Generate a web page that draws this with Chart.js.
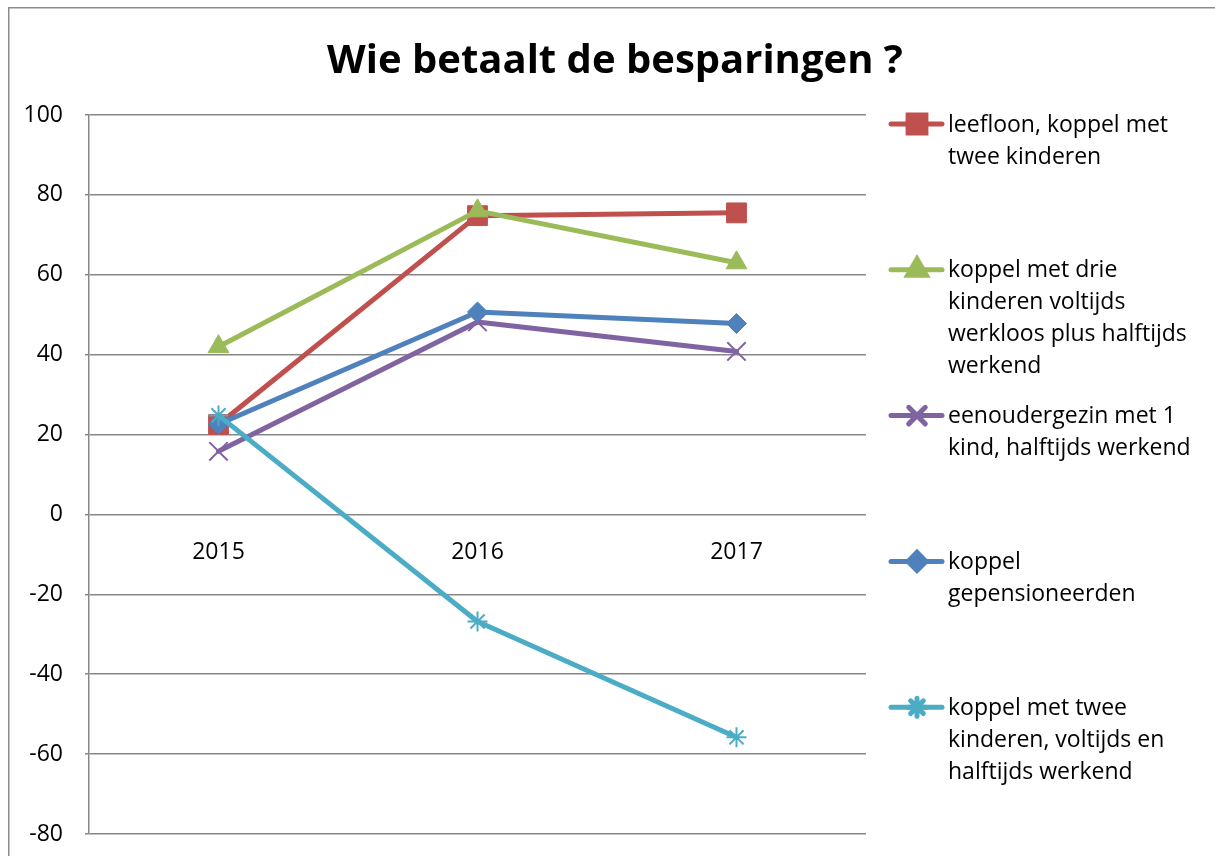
<!DOCTYPE html>
<html>
<head>
<meta charset="utf-8">
<title>Wie betaalt de besparingen ?</title>
<script src="https://cdn.jsdelivr.net/npm/chart.js@4/dist/chart.umd.min.js"></script>
<style>
  html, body { margin: 0; padding: 0; background: #fff; }
  #wrap { width: 1215px; height: 856px; position: relative; }
</style>
</head>
<body>
<div id="wrap"><canvas id="chart" width="1215" height="856"></canvas></div>
<script>
// data
const years = ['2015', '2016', '2017']
const leefloon = [22.5, 74.8, 75.5]
const drieKinderen = [42, 76, 63]
const eenouder = [15.8, 48.2, 40.8]
const gepensioneerden = [22.6, 50.7, 47.8]
const tweeKinderen = [24.8, -26.8, -55.8]

const titleText = 'Wie betaalt de besparingen ?'
const legendLines = [
  ['leefloon, koppel met', 'twee kinderen'],
  ['koppel met drie', 'kinderen voltijds', 'werkloos plus halftijds', 'werkend'],
  ['eenoudergezin met 1', 'kind, halftijds werkend'],
  ['koppel', 'gepensioneerden'],
  ['koppel met twee', 'kinderen, voltijds en', 'halftijds werkend']
]

const FONT = '"Open Sans", "DejaVu Sans", sans-serif'
const gridColor = '#878787'

function serie(label, data, color, style, radius, order, pbw) {
  return {
    label: label,
    data: data,
    borderColor: color,
    backgroundColor: color,
    pointBackgroundColor: color,
    pointBorderColor: color,
    borderWidth: 5,
    borderCapStyle: 'round',
    borderJoinStyle: 'round',
    pointStyle: style,
    pointRadius: radius,
    pointBorderWidth: pbw,
    tension: 0,
    order: order
  }
}

const datasets = [
  serie(legendLines[0].join(' '), leefloon, '#C0504D', 'rect', 14, 5, 1),
  serie(legendLines[1].join(' '), drieKinderen, '#9BBB59', 'triangle', 12, 4, 1),
  serie(legendLines[2].join(' '), eenouder, '#8064A2', 'crossRot', 13, 3, 2),
  serie(legendLines[3].join(' '), gepensioneerden, '#4F81BD', 'rectRot', 10, 2, 1),
  serie(legendLines[4].join(' '), tweeKinderen, '#4BACC6', 'star', 10, 1, 2)
]

// kader rond de grafiek
const framePlugin = {
  id: 'frame',
  beforeDraw(chart) {
    const ctx = chart.ctx
    ctx.save()
    ctx.fillStyle = '#fff'
    ctx.fillRect(0, 0, chart.width, chart.height)
    ctx.strokeStyle = '#8c8c8c'
    ctx.lineWidth = 1.5
    ctx.strokeRect(8.75, 7.75, chart.width + 20, chart.height + 20)
    ctx.restore()
  }
}

// titel en legende met tekst over meerdere regels
const legendPlugin = {
  id: 'sideLegend',
  afterDraw(chart) {
    const ctx = chart.ctx
    ctx.save()
    ctx.fillStyle = '#000'
    ctx.font = 'bold 40px ' + FONT
    ctx.textAlign = 'center'
    ctx.textBaseline = 'middle'
    ctx.fillText(titleText, 615, 62)

    ctx.font = '23px ' + FONT
    ctx.textAlign = 'left'
    chart.data.datasets.forEach((ds, i) => {
      const y = 124 + i * 145.8
      ctx.strokeStyle = ds.borderColor
      ctx.lineWidth = 5
      ctx.lineCap = 'round'
      ctx.beginPath()
      ctx.moveTo(891, y)
      ctx.lineTo(942, y)
      ctx.stroke()
      ctx.fillStyle = ds.borderColor
      Chart.helpers.drawPoint(ctx, {
        pointStyle: ds.pointStyle,
        radius: ds.pointRadius * 0.9,
        borderWidth: ds.pointBorderWidth,
        rotation: 0
      }, 917, y)
      ctx.fillStyle = '#000'
      legendLines[i].forEach((line, j) => {
        ctx.fillText(line, 948, y + 1 + j * 32)
      })
    })
    ctx.restore()
  }
}

new Chart(document.getElementById('chart'), {
  type: 'line',
  data: { labels: years, datasets: datasets },
  options: {
    responsive: false,
    animation: false,
    layout: { padding: { left: 0, top: 115, right: 349, bottom: 22 } },
    plugins: {
      legend: { display: false },
      title: { display: false },
      tooltip: { enabled: false }
    },
    scales: {
      x: {
        type: 'category',
        position: { y: 0 },
        offset: true,
        grid: { display: false },
        border: { display: false },
        ticks: { color: '#000', padding: 16, font: { family: FONT, size: 23 } },
        afterFit(scale) { scale.paddingLeft = 0; scale.paddingRight = 0 }
      },
      y: {
        min: -80,
        max: 100,
        afterFit(scale) {
          scale.width = 89
          scale.paddingTop = 0
          scale.paddingBottom = 0
        },
        ticks: { stepSize: 20, color: '#000', padding: 22, font: { family: FONT, size: 23 } },
        grid: { color: gridColor, lineWidth: 1.5, tickLength: 4 },
        border: { color: gridColor, width: 1.5 }
      }
    }
  },
  plugins: [framePlugin, legendPlugin]
})
</script>
</body>
</html>
